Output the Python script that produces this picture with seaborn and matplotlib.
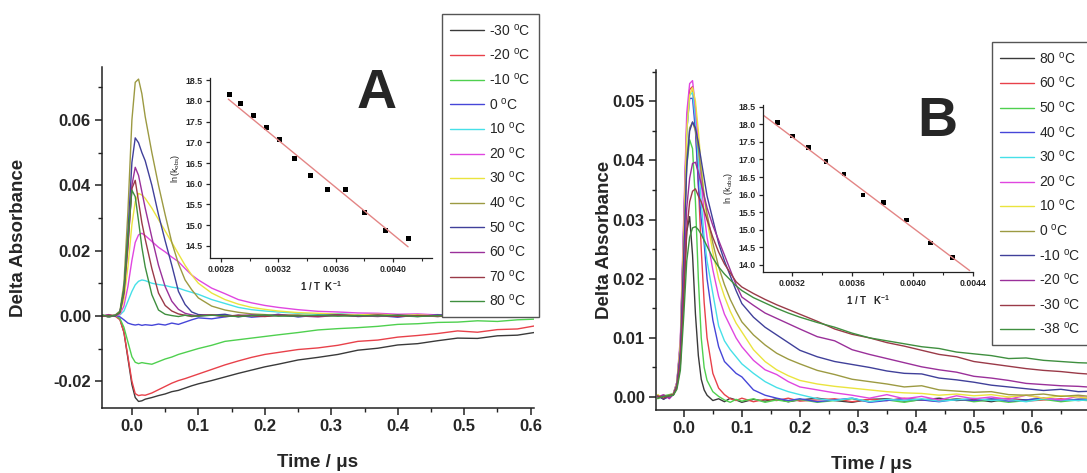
import matplotlib
matplotlib.use('Agg')
import matplotlib.pyplot as plt
from matplotlib.ticker import MultipleLocator, FormatStrFormatter
import numpy as np
import pandas as pd
import seaborn as sns

# ---------------- data (absorbance in 1e-3 OD) ----------------
time_a = [-0.045, -0.035, -0.025, -0.018, -0.012, -0.006, 0.0, 0.005, 0.01, 0.015,
          0.02, 0.03, 0.04, 0.05, 0.06, 0.07, 0.08, 0.09, 0.1, 0.12,
          0.14, 0.16, 0.18, 0.2, 0.22, 0.25, 0.28, 0.31, 0.34, 0.37,
          0.4, 0.43, 0.46, 0.49, 0.52, 0.55, 0.58, 0.605]

a_m30 = [0.3, -0.4, 0.2, -1.0, -5.0, -13.0, -21.0, -25.0, -26.2, -26.0,
         -25.5, -25.0, -24.4, -23.9, -23.2, -22.8, -22.1, -21.4, -20.8, -19.8,
         -18.7, -17.6, -16.6, -15.6, -14.8, -13.5, -12.7, -11.8, -10.5, -9.9,
         -8.9, -8.5, -7.6, -6.8, -6.9, -6.1, -5.9, -5.1]
a_m20 = [-0.2, 0.4, -0.1, -1.2, -5.0, -12.5, -20.0, -23.8, -24.4, -24.2,
         -24.3, -23.6, -22.6, -21.6, -20.6, -19.8, -19.2, -18.5, -17.8, -16.4,
         -15.0, -13.8, -12.7, -11.8, -11.2, -10.3, -9.8, -9.0, -7.8, -7.4,
         -6.5, -6.0, -5.4, -4.6, -5.0, -4.2, -4.0, -3.1]
a_m10 = [0.2, -0.3, 0.1, -0.8, -3.5, -8.0, -12.5, -14.2, -14.6, -14.3,
         -14.5, -14.8, -14.0, -13.2, -12.6, -11.8, -11.2, -10.6, -10.0, -9.0,
         -7.8, -7.3, -6.8, -6.3, -5.8, -5.1, -4.3, -3.9, -3.6, -3.2,
         -2.6, -2.4, -2.0, -1.9, -1.5, -1.7, -1.2, -1.0]
a_0 = [0.1, -0.2, 0.3, -0.3, -1.2, -2.2, -2.6, -2.8, -2.6, -2.9,
       -2.7, -2.9, -2.5, -2.8, -2.2, -2.6, -1.9, -1.2, -0.6, -0.9,
       -0.3, 0.2, -0.4, -0.1, 0.5, -0.3, 0.2, 0.6, -0.2, 0.1,
       -0.4, 0.3, -0.2, 0.4, 0.0, -0.3, 0.2, -0.1]
a_10 = [0.1, -0.2, 0.2, 0.3, 1.5, 4.5, 7.5, 9.5, 10.6, 11.0,
        10.8, 10.0, 9.6, 9.3, 8.8, 8.5, 7.8, 7.2, 6.6, 5.0,
        3.8, 2.6, 1.9, 1.5, 1.2, 0.8, 0.5, 0.7, 0.3, 0.6,
        0.1, 0.2, 0.4, -0.1, 0.3, 0.0, 0.2, 0.4]
a_20 = [0.0, 0.3, -0.2, 0.5, 3.0, 9.0, 17.0, 22.5, 24.8, 25.3,
        24.6, 22.8, 21.0, 19.6, 18.0, 16.6, 14.5, 12.5, 11.0, 8.5,
        6.8, 5.0, 4.0, 3.2, 2.6, 1.9, 1.4, 1.2, 0.9, 0.8,
        0.5, 0.6, 0.3, 0.5, 0.1, 0.4, 0.2, 0.0]
a_30 = [0.0, -0.2, 0.2, 0.8, 5.0, 15.0, 28.0, 35.0, 37.5, 37.0,
        36.0, 33.0, 29.5, 26.0, 22.5, 19.0, 15.5, 12.5, 10.0, 7.0,
        5.0, 3.6, 2.6, 2.0, 1.5, 1.0, 0.8, 0.5, 0.3, 0.5,
        0.2, 0.3, 0.0, 0.2, -0.1, 0.3, 0.1, 0.0]
a_40 = [0.2, 0.0, 0.3, 1.5, 10.0, 32.0, 60.0, 71.5, 72.5, 68.0,
        61.0, 50.0, 40.0, 31.0, 22.5, 16.0, 11.0, 8.0, 5.5, 3.0,
        1.8, 1.1, 0.6, 0.4, 0.2, 0.3, 0.0, 0.2, -0.1, 0.2,
        0.0, 0.1, -0.2, 0.2, 0.0, 0.1, -0.1, 0.2]
a_50 = [0.0, 0.2, -0.1, 1.2, 8.0, 25.0, 47.0, 54.5, 53.0, 50.0,
        47.5, 40.0, 31.0, 23.0, 15.5, 7.5, 3.5, 1.2, 0.4, 0.2,
        0.5, -0.3, 0.2, 0.0, 0.3, -0.2, 0.1, 0.3, -0.1, 0.2,
        0.0, -0.2, 0.3, 0.1, -0.1, 0.2, 0.0, 0.1]
a_60 = [0.1, -0.2, 0.2, 1.0, 7.0, 21.0, 40.0, 45.5, 43.0, 38.0,
        33.0, 24.0, 15.5, 9.0, 4.5, 2.0, 0.8, 0.3, 0.0, 0.3,
        -0.2, 0.1, 0.3, -0.1, 0.2, 0.0, -0.3, 0.2, 0.1, -0.2,
        0.3, 0.0, 0.1, -0.1, 0.2, 0.0, 0.3, -0.1]
a_70 = [-0.1, 0.2, 0.0, 1.0, 7.0, 22.0, 39.0, 41.5, 35.0, 28.5,
        23.5, 14.5, 7.0, 3.2, 1.5, 0.6, 0.2, -0.2, 0.1, 0.3,
        -0.1, 0.2, 0.0, -0.2, 0.2, 0.1, -0.1, 0.3, 0.0, 0.2,
        -0.2, 0.1, 0.0, 0.2, -0.1, 0.1, 0.2, 0.0]
a_80 = [0.2, -0.1, 0.1, 1.2, 8.0, 24.0, 38.5, 36.5, 29.0, 21.0,
        15.0, 6.5, 1.8, 0.5, 0.1, -0.2, 0.2, 0.0, -0.1, 0.2,
        0.0, -0.2, 0.1, 0.3, -0.1, 0.0, 0.2, -0.1, 0.1, 0.0,
        0.2, -0.2, 0.1, 0.0, -0.1, 0.2, 0.0, 0.1]

labels_a = ['-30', '-20', '-10', '0', '10', '20', '30', '40', '50', '60', '70', '80']
traces_a = [a_m30, a_m20, a_m10, a_0, a_10, a_20, a_30, a_40, a_50, a_60, a_70, a_80]

time_b = [-0.045, -0.035, -0.025, -0.018, -0.012, -0.006, 0.0, 0.005, 0.01, 0.015,
          0.02, 0.025, 0.03, 0.035, 0.04, 0.05, 0.06, 0.07, 0.08, 0.09,
          0.1, 0.12, 0.14, 0.16, 0.18, 0.2, 0.23, 0.26, 0.29, 0.32,
          0.35, 0.38, 0.41, 0.44, 0.47, 0.5, 0.53, 0.56, 0.59, 0.62,
          0.65, 0.68, 0.71]

b_80 = [0.3, -0.4, 0.2, 0.5, 2.0, 7.0, 18.0, 28.0, 30.5, 24.0,
        14.0, 7.0, 3.0, 1.2, 0.3, -0.6, -0.3, -0.8, -0.2, -0.5,
        -0.9, -0.4, -0.7, -0.3, -0.8, -0.5, -0.2, -0.6, -0.9, -0.4,
        -0.3, -0.7, -0.5, -0.2, -0.6, -0.4, -0.8, -0.3, -0.5, -0.2,
        -0.6, -0.4, -0.3]
b_60 = [0.0, 0.3, -0.2, 0.6, 2.5, 9.0, 30.0, 46.0, 52.0, 52.5,
        46.0, 36.0, 25.0, 16.0, 10.0, 4.0, 1.5, 0.4, -0.3, -0.6,
        -0.2, -0.8, -0.4, -0.6, -0.2, -0.7, -0.5, -0.3, -0.8, -0.4,
        -0.6, -0.2, -0.5, -0.7, -0.3, -0.6, -0.4, -0.2, -0.7, -0.5,
        -0.3, -0.6, -0.4]
b_50 = [-0.3, 0.2, 0.4, 0.6, 2.2, 8.0, 26.0, 39.0, 43.5, 42.0,
        33.0, 20.0, 10.0, 5.0, 2.8, 0.9, 0.1, -0.5, -0.9, -0.4,
        -0.7, -0.3, -0.9, -0.5, -0.8, -0.4, -0.9, -0.6, -0.3, -0.8,
        -0.5, -0.9, -0.4, -0.7, -0.3, -0.8, -0.5, -0.9, -0.6, -0.4,
        -0.8, -0.5, -0.7]
b_40 = [0.2, -0.3, 0.1, 0.5, 2.4, 9.0, 29.0, 45.0, 50.5, 50.5,
        45.0, 36.0, 30.0, 26.0, 20.0, 13.0, 8.5, 6.0, 5.0, 4.0,
        3.4, 1.2, 0.3, -0.2, -0.6, -0.3, -0.8, -0.5, -0.2, -0.9,
        -0.6, -0.3, -0.5, -0.8, -0.4, -0.6, -0.3, -0.7, -0.5, -0.2,
        -0.6, -0.4, -0.5]
b_30 = [0.1, 0.3, -0.2, 0.5, 2.4, 9.0, 29.0, 45.0, 51.0, 51.5,
        47.0, 40.0, 33.0, 27.0, 23.0, 17.5, 12.0, 9.5, 8.0, 6.8,
        5.6, 4.0, 2.6, 1.6, 0.9, 0.4, -0.3, -0.6, -0.2, -0.8,
        -0.4, -0.6, -0.3, -0.7, -0.5, -0.2, -0.6, -0.4, -0.8, -0.3,
        -0.5, -0.6, -0.4]
b_20 = [0.0, 0.4, -0.3, 0.6, 2.5, 10.0, 31.0, 48.0, 53.0, 53.5,
        49.0, 43.0, 36.5, 31.0, 27.0, 21.5, 17.0, 14.0, 12.0, 10.0,
        8.5, 6.2, 4.6, 3.8, 2.6, 1.7, 1.2, 0.7, 0.3, -0.2,
        0.4, -0.3, 0.1, -0.5, 0.2, -0.3, 0.0, -0.4, 0.3, -0.2,
        -0.5, 0.1, -0.3]
b_10 = [0.4, -0.2, 0.3, 0.5, 2.3, 9.0, 28.0, 45.0, 51.0, 52.3,
        50.0, 45.0, 39.0, 34.0, 30.0, 24.5, 20.0, 17.0, 14.5, 12.5,
        11.0, 8.0, 6.0, 4.6, 3.6, 2.8, 2.2, 1.8, 1.5, 1.2,
        0.9, 0.7, 0.6, 0.3, 0.5, 0.2, 0.4, 0.0, 0.3, -0.2,
        0.2, 0.0, -0.3]
b_0 = [-0.2, 0.3, 0.0, 0.5, 2.1, 8.0, 25.0, 40.0, 45.5, 46.5,
       45.0, 42.0, 38.0, 34.0, 31.0, 26.0, 22.0, 19.0, 16.5, 14.5,
       12.7, 10.5, 8.8, 7.4, 6.4, 5.6, 4.5, 3.8, 3.0, 2.6,
       2.2, 1.7, 1.9, 1.2, 1.0, 0.8, 0.9, 0.4, 0.3, 0.5,
       0.1, 0.3, 0.0]
b_m10 = [0.1, -0.3, 0.2, 0.4, 2.0, 7.5, 24.0, 39.0, 45.0, 46.5,
         45.5, 43.0, 40.0, 37.0, 34.0, 30.0, 26.0, 23.0, 20.5, 18.0,
         15.8, 13.5, 11.8, 10.5, 9.2, 7.9, 6.8, 6.0, 5.5, 5.0,
         4.4, 4.0, 3.9, 3.2, 2.9, 2.5, 2.0, 1.7, 1.4, 1.1,
         1.3, 0.9, 1.0]
b_m20 = [0.0, 0.3, -0.2, 0.4, 1.8, 6.5, 20.0, 32.0, 37.0, 39.5,
         39.7, 38.0, 36.0, 34.0, 32.0, 29.0, 26.5, 24.0, 21.5, 19.0,
         16.9, 15.5, 14.2, 13.3, 12.4, 11.5, 10.2, 9.5, 8.0, 7.2,
         6.5, 5.8, 5.1, 4.6, 4.2, 3.5, 3.2, 2.8, 2.3, 2.1,
         1.9, 1.8, 1.6]
b_m30 = [0.2, -0.2, 0.3, 0.4, 1.6, 5.5, 17.0, 28.0, 33.0, 34.8,
         35.2, 34.0, 33.0, 31.5, 30.0, 27.0, 24.5, 22.5, 21.0, 19.5,
         18.6, 17.5, 16.5, 15.6, 14.8, 14.0, 12.8, 11.5, 10.6, 10.0,
         9.2, 8.6, 7.9, 7.2, 6.8, 6.0, 5.6, 5.2, 4.8, 4.5,
         4.3, 4.0, 3.8]
b_m38 = [-0.2, 0.1, 0.2, 0.3, 1.3, 4.5, 14.0, 23.0, 27.0, 28.6,
         28.8, 28.3, 27.5, 26.5, 25.5, 23.5, 22.0, 20.8, 19.8, 18.8,
         18.0, 16.8, 15.9, 15.0, 14.2, 13.5, 12.6, 11.8, 10.8, 10.0,
         9.5, 9.0, 8.5, 8.2, 7.6, 7.3, 7.0, 6.5, 6.6, 6.2,
         6.0, 5.8, 5.7]

labels_b = ['80', '60', '50', '40', '30', '20', '10', '0', '-10', '-20', '-30', '-38']
traces_b = [b_80, b_60, b_50, b_40, b_30, b_20, b_10, b_0, b_m10, b_m20, b_m30, b_m38]

# Arrhenius insets
inv_t_a = [0.002858, 0.002939, 0.003025, 0.003118, 0.003211, 0.003311,
           0.003427, 0.003541, 0.003668, 0.003803, 0.003949, 0.004105]
lnk_a = [18.16, 17.94, 17.64, 17.36, 17.07, 16.61, 16.20, 15.86, 15.86, 15.30, 14.88, 14.67]
fit_a_x = [0.002851, 0.004105]
fit_a_y = [18.04, 14.48]

inv_t_b = [0.003103, 0.003200, 0.003310, 0.003423, 0.003543,
           0.003671, 0.003804, 0.003958, 0.004119, 0.004263]
lnk_b = [18.05, 17.67, 17.34, 16.94, 16.59, 15.99, 15.78, 15.28, 14.63, 14.22]
fit_b_x = [0.003008, 0.004378]
fit_b_y = [18.26, 13.84]

# Origin-like line colours, same order in both legends
colors = ['#3a3a3a', '#e8414a', '#4fd04f', '#4646d8', '#46e0e8', '#e046e0',
          '#eae43e', '#9c9a42', '#40409a', '#9a309a', '#9a3a48', '#3f8f3f']

# ---------------- style ----------------
sns.set_style('ticks')
plt.rcParams['font.family'] = ['Liberation Sans', 'DejaVu Sans']
plt.rcParams['axes.unicode_minus'] = False
plt.rcParams['mathtext.fontset'] = 'custom'
plt.rcParams['mathtext.rm'] = 'Liberation Sans'
plt.rcParams['mathtext.bf'] = 'Liberation Sans:bold'
plt.rcParams['axes.linewidth'] = 1.1
plt.rcParams['axes.edgecolor'] = '#222222'

fig = plt.figure(figsize=(10.87, 4.73), dpi=100)


def long_df(t, traces, labels):
    rows = []
    for lab, vals in zip(labels, traces):
        rows.append(pd.DataFrame({'t': t, 'y': np.array(vals) / 1000.0, 'temp': lab}))
    return pd.concat(rows, ignore_index=True)


def style_main(ax, ymaj, ymin, ypad):
    ax.xaxis.set_major_locator(MultipleLocator(0.1))
    ax.xaxis.set_minor_locator(MultipleLocator(0.05))
    ax.yaxis.set_major_locator(MultipleLocator(ymaj))
    ax.yaxis.set_minor_locator(MultipleLocator(ymin))
    ax.xaxis.set_major_formatter(FormatStrFormatter('%.1f'))
    ax.yaxis.set_major_formatter(FormatStrFormatter('%.2f'))
    ax.tick_params(which='major', direction='out', length=5, width=1.1,
                   labelsize=12, pad=3, color='#222222')
    ax.tick_params(which='minor', direction='out', length=3, width=1.0, color='#222222')
    for lab in ax.get_xticklabels() + ax.get_yticklabels():
        lab.set_fontweight('bold')
    ax.set_xlabel('Time / μs', fontsize=13.5, fontweight='bold', labelpad=14)
    ax.set_ylabel('Delta Absorbance', fontsize=13.5, fontweight='bold', labelpad=ypad)
    sns.despine(ax=ax)


def style_inset(ax, xlab, ylab):
    ax.xaxis.set_major_locator(MultipleLocator(0.0004))
    ax.xaxis.set_minor_locator(MultipleLocator(0.0002))
    ax.yaxis.set_major_locator(MultipleLocator(0.5))
    ax.xaxis.set_major_formatter(FormatStrFormatter('%.4f'))
    ax.yaxis.set_major_formatter(FormatStrFormatter('%.1f'))
    ax.tick_params(which='major', direction='out', length=3, width=0.9, labelsize=6.3, pad=2)
    ax.tick_params(which='minor', direction='out', length=2, width=0.8)
    for lab in ax.get_xticklabels() + ax.get_yticklabels():
        lab.set_fontweight('bold')
    for s in ax.spines.values():
        s.set_linewidth(0.9)
    ax.set_xlabel(xlab, fontsize=7, fontweight='bold', labelpad=4)
    ax.set_ylabel(ylab, fontsize=6.5, labelpad=3)
    sns.despine(ax=ax)


# ---------------- panel A ----------------
axA = fig.add_axes([102 / 1087, 1 - 408 / 473, 432 / 1087, 341 / 473])
df_a = long_df(time_a, traces_a, labels_a)
names_a = [f'{l} $^\\mathregular{{o}}$C' for l in labels_a]
df_a['temp'] = df_a['temp'].map(dict(zip(labels_a, names_a)))
sns.lineplot(data=df_a, x='t', y='y', hue='temp', hue_order=names_a,
             palette=colors, estimator=None, sort=False, lw=1.0, ax=axA, legend=True)
handles_a, leg_labels_a = axA.get_legend_handles_labels()
axA.get_legend().remove()
axA.set_xlim(-0.045, 0.605)
axA.set_ylim(-0.0282, 0.0762)
style_main(axA, 0.02, 0.01, 19)

insA = fig.add_axes([210 / 1087, 1 - 258 / 473, 222 / 1087, 180 / 473], facecolor='none')
sns.lineplot(x=fit_a_x, y=fit_a_y, color='#e38585', lw=1.0, ax=insA)
sns.scatterplot(x=inv_t_a, y=lnk_a, marker='s', s=13, color='black', edgecolor='none', ax=insA)
insA.set_xlim(0.002723, 0.004272)
insA.set_ylim(14.21, 18.55)
style_inset(insA, '1 / T  K$^{\\mathregular{-1}}$', 'ln(k$_{\\mathregular{obs}}$)')

fig.legend(handles_a, leg_labels_a, loc='upper left',
           bbox_to_anchor=(442 / 1087, 1 - 14 / 473), borderaxespad=0,
           fontsize=10, frameon=True, fancybox=False, framealpha=1,
           edgecolor='#555555', handlelength=2.4, handletextpad=0.4,
           labelspacing=0.62, borderpad=0.6)
fig.text(377 / 1087, 1 - 94 / 473, 'A', fontsize=40, fontweight='bold',
         ha='center', va='center')

# ---------------- panel B ----------------
axB = fig.add_axes([656 / 1087, 1 - 410 / 473, 431 / 1087, 340 / 473])
df_b = long_df(time_b, traces_b, labels_b)
names_b = [f'{l} $^\\mathregular{{o}}$C' for l in labels_b]
df_b['temp'] = df_b['temp'].map(dict(zip(labels_b, names_b)))
sns.lineplot(data=df_b, x='t', y='y', hue='temp', hue_order=names_b,
             palette=colors, estimator=None, sort=False, lw=1.0, ax=axB, legend=True)
handles_b, leg_labels_b = axB.get_legend_handles_labels()
axB.get_legend().remove()
axB.set_xlim(-0.048, 0.695)
axB.set_ylim(-0.0022, 0.0553)
style_main(axB, 0.01, 0.005, 0)

insB = fig.add_axes([763 / 1087, 1 - 272 / 473, 210 / 1087, 167 / 473], facecolor='none')
sns.lineplot(x=fit_b_x, y=fit_b_y, color='#e38585', lw=1.0, ax=insB)
sns.scatterplot(x=inv_t_b, y=lnk_b, marker='s', s=11, color='black', edgecolor='none', ax=insB)
insB.set_xlim(0.003006, 0.0044)
insB.set_ylim(13.80, 18.55)
style_inset(insB, '1 / T   K$^{\\mathregular{-1}}$', 'ln (k$_{\\mathregular{obs}}$)')

fig.legend(handles_b, leg_labels_b, loc='upper left',
           bbox_to_anchor=(992 / 1087, 1 - 42 / 473), borderaxespad=0,
           fontsize=10, frameon=True, fancybox=False, framealpha=1,
           edgecolor='#555555', handlelength=2.4, handletextpad=0.4,
           labelspacing=0.62, borderpad=0.6)
fig.text(937 / 1087, 1 - 122 / 473, 'B', fontsize=40, fontweight='bold',
         ha='center', va='center')

fig.savefig('out.png', dpi=100)
